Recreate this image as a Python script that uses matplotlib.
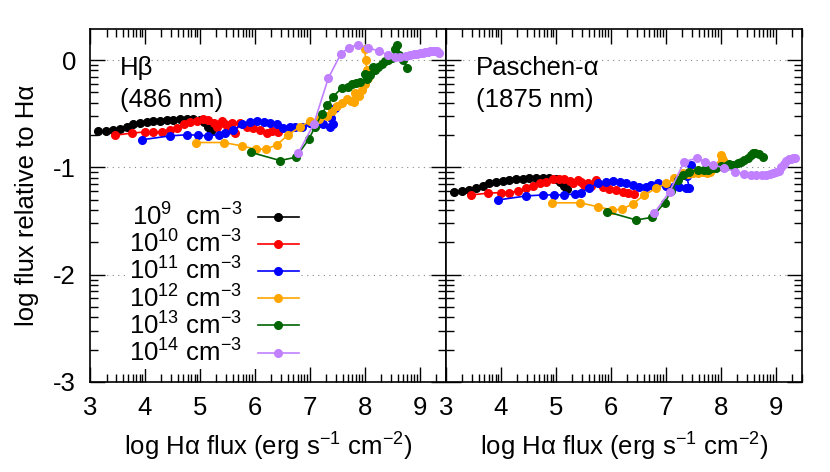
import matplotlib
matplotlib.use("Agg")
import matplotlib.pyplot as plt
import matplotlib.ticker as ticker
import numpy as np

plt.rcParams["font.family"] = ["Liberation Sans", "DejaVu Sans"]
plt.rcParams["mathtext.fontset"] = "custom"
plt.rcParams["mathtext.rm"] = "Liberation Sans"
plt.rcParams["mathtext.it"] = "Liberation Sans"
plt.rcParams["mathtext.default"] = "regular"
plt.rcParams["axes.unicode_minus"] = False

# --- Data: log Halpha flux (shared) and log line ratio for each panel ---

densities = ["$10^{9}$  cm$^{-3}$", "$10^{10}$ cm$^{-3}$", "$10^{11}$ cm$^{-3}$",
             "$10^{12}$ cm$^{-3}$", "$10^{13}$ cm$^{-3}$", "$10^{14}$ cm$^{-3}$"]
colors = ["black", "#ff0000", "#0000ff", "#ffa500", "#006400", "#c080ff"]

x_1e9 = [3.15, 3.30, 3.42, 3.55, 3.67, 3.79, 3.91, 4.03, 4.15, 4.28, 4.40, 4.52,
         4.64, 4.76, 4.88, 5.00, 5.08, 5.15, 5.20]
hb_1e9 = [-0.665, -0.66, -0.65, -0.64, -0.62, -0.60, -0.59, -0.58, -0.57, -0.565, -0.56,
          -0.555, -0.553, -0.55, -0.547, -0.555, -0.58, -0.62, -0.66]
pa_1e9 = [-1.226, -1.217, -1.21, -1.194, -1.17, -1.148, -1.136, -1.126, -1.117, -1.11,
          -1.105, -1.10, -1.098, -1.098, -1.098, -1.11, -1.14, -1.17, -1.20]

x_1e10 = [3.46, 3.76, 4.00, 4.15, 4.31, 4.46, 4.59, 4.71, 4.82, 4.94, 5.06, 5.15, 5.25,
          5.32, 5.40, 5.45, 5.52, 5.58, 5.64, 5.73, 5.85, 5.97, 6.10, 6.22, 6.31, 6.43]
hb_1e10 = [-0.70, -0.68, -0.67, -0.67, -0.67, -0.656, -0.634, -0.60, -0.58, -0.563, -0.55,
           -0.556, -0.59, -0.62, -0.57, -0.60, -0.65, -0.59, -0.68, -0.59, -0.62, -0.634,
           -0.65, -0.68, -0.665, -0.674]
pa_1e10 = [-1.257, -1.24, -1.235, -1.235, -1.22, -1.194, -1.175, -1.15, -1.135, -1.11, -1.11,
           -1.11, -1.13, -1.148, -1.12, -1.133, -1.16, -1.15, -1.17, -1.117, -1.18, -1.20,
           -1.21, -1.226, -1.235, -1.248]

x_1e11 = [3.94, 4.46, 4.76, 4.97, 5.15, 5.34, 5.46, 5.61, 5.76, 5.91, 6.04, 6.16, 6.28,
          6.40, 6.52, 6.64, 6.73, 6.86, 7.01, 7.13, 7.25, 7.37, 7.43, 7.38, 7.46]
hb_1e11 = [-0.743, -0.706, -0.696, -0.70, -0.706, -0.696, -0.68, -0.65, -0.60, -0.58, -0.57,
           -0.58, -0.587, -0.593, -0.634, -0.62, -0.624, -0.62, -0.587, -0.60, -0.593, -0.62,
           -0.60, -0.54, -0.45]
pa_1e11 = [-1.304, -1.266, -1.257, -1.257, -1.257, -1.248, -1.235, -1.19, -1.148, -1.133,
           -1.126, -1.14, -1.148, -1.16, -1.18, -1.18, -1.16, -1.142, -1.173, -1.18, -1.185,
           -1.194, -1.19, -1.08, -0.98]

x_1e12 = [4.93, 5.44, 5.76, 6.02, 6.20, 6.40, 6.61, 6.83, 7.01, 7.16, 7.31, 7.40, 7.49,
          7.58, 7.68, 7.75, 7.83, 7.80, 7.90, 7.95, 8.01, 8.07, 8.04, 8.02, 8.00]
hb_1e12 = [-0.768, -0.768, -0.80, -0.83, -0.83, -0.79, -0.696, -0.62, -0.57, -0.55, -0.525,
           -0.47, -0.43, -0.40, -0.36, -0.38, -0.31, -0.39, -0.33, -0.28, -0.22, -0.17,
           -0.09, 0.0, 0.10]
pa_1e12 = [-1.33, -1.33, -1.366, -1.397, -1.39, -1.34, -1.257, -1.194, -1.148, -1.10, -1.054,
           -1.06, -1.054, -1.05, -1.04, -1.05, -1.023, -1.04, -1.0, -0.99, -0.96, -0.96,
           -0.93, -0.91, -0.88]

x_1e13 = [5.93, 6.46, 6.75, 6.98, 7.10, 7.22, 7.32, 7.43, 7.58, 7.70, 7.77, 7.85, 7.92,
          8.04, 8.00, 8.10, 8.19, 8.15, 8.25, 8.31, 8.37, 8.43, 8.50, 8.56, 8.59, 8.62,
          8.70, 8.77]
hb_1e13 = [-0.86, -0.936, -0.905, -0.74, -0.62, -0.50, -0.42, -0.34, -0.26, -0.25, -0.22,
           -0.21, -0.20, -0.18, -0.13, -0.135, -0.09, -0.06, -0.06, -0.04, -0.01, 0.005,
           0.02, 0.10, 0.145, 0.05, 0.0, -0.07]
pa_1e13 = [-1.413, -1.49, -1.466, -1.33, -1.22, -1.117, -1.07, -1.04, -1.023, -1.023, -1.02,
           -1.01, -1.007, -1.0, -0.99, -0.99, -0.98, -0.97, -0.977, -0.96, -0.946, -0.93,
           -0.914, -0.88, -0.867, -0.87, -0.875, -0.90]

x_1e14 = [6.79, 7.07, 7.34, 7.57, 7.71, 7.87, 8.07, 8.27, 8.43, 8.55, 8.65, 8.75, 8.83,
          8.90, 8.96, 9.01, 9.06, 9.10, 9.15, 9.19, 9.24, 9.28, 9.31, 9.35]
hb_1e14 = [-0.867, -0.60, -0.166, 0.06, 0.114, 0.145, 0.114, 0.083, 0.045, 0.03, 0.026,
           0.035, 0.05, 0.055, 0.06, 0.067, 0.07, 0.075, 0.08, 0.083, 0.085, 0.085, 0.083, 0.07]
pa_1e14 = [-1.428, -1.226, -0.946, -0.914, -0.946, -0.977, -1.007, -1.039, -1.06, -1.068,
           -1.07, -1.07, -1.068, -1.06, -1.05, -1.045, -1.03, -1.0, -0.97, -0.945, -0.925,
           -0.918, -0.915, -0.914]

xs = [x_1e9, x_1e10, x_1e11, x_1e12, x_1e13, x_1e14]
hb = [hb_1e9, hb_1e10, hb_1e11, hb_1e12, hb_1e13, hb_1e14]
pa = [pa_1e9, pa_1e10, pa_1e11, pa_1e12, pa_1e13, pa_1e14]

FS = 18.5

# --- Figure ---

fig = plt.figure(figsize=(8.3, 4.72), dpi=100)
ax1 = fig.add_axes([0.1084, 0.1907, 0.4289, 0.7479])
ax2 = fig.add_axes([0.5373, 0.1907, 0.4289, 0.7479])

minor_x = [n + np.log10(k) for n in range(3, 10) for k in range(2, 10)]
minor_y = [n + np.log10(k) for n in range(-3, 1) for k in range(2, 10)]

for ax, ys, title in [(ax1, hb, "H\u03b2\n(486 nm)"), (ax2, pa, "Paschen-\u03b1\n(1875 nm)")]:
    for x, y, c, lab in zip(xs, ys, colors, densities):
        ax.plot(x, y, "-o", color=c, lw=1.2, ms=5.5, label=lab)
    ax.set_xlim(3, 9.48)
    ax.set_ylim(-3, 0.29)
    ax.xaxis.set_major_locator(ticker.MultipleLocator(1))
    ax.yaxis.set_major_locator(ticker.MultipleLocator(1))
    ax.xaxis.set_minor_locator(ticker.FixedLocator(minor_x))
    ax.yaxis.set_minor_locator(ticker.FixedLocator(minor_y))
    ax.tick_params(which="both", direction="in", top=True, right=True, width=1.0)
    ax.tick_params(which="major", length=11, labelsize=FS)
    ax.tick_params(axis="x", which="major", pad=10)
    ax.tick_params(axis="y", which="major", pad=10)
    ax.tick_params(which="minor", length=6)
    for s in ax.spines.values():
        s.set_linewidth(1.2)
    ax.grid(axis="y", which="major", color="#888888", linestyle=(0, (1, 4)), lw=0.8)
    ax.set_xlabel("log H\u03b1 flux (erg s$^{-1}$ cm$^{-2}$)", fontsize=FS, labelpad=8)
    ax.text(3.55, -0.22, title, fontsize=FS, va="center", ha="left", linespacing=1.4)
    ax.set_axisbelow(True)

ax2.tick_params(axis="y", labelleft=False)
ax1.set_ylabel("log flux relative to H\u03b1", fontsize=FS, labelpad=10)
ax1.yaxis.set_major_formatter(ticker.FormatStrFormatter("%d"))

ax1.legend(loc="lower right", bbox_to_anchor=(0.63, 0.0), markerfirst=False, fontsize=FS,
           frameon=True, facecolor="white", edgecolor="none", framealpha=1, fancybox=False,
           handlelength=1.6, handletextpad=0.6, labelspacing=0.0, borderpad=0.1)

fig.savefig("out.png", dpi=100)
